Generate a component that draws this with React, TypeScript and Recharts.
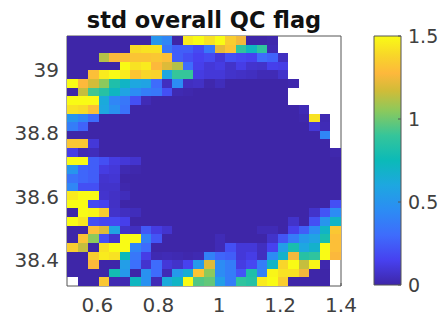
import { ScatterChart, Scatter, BarChart, Bar, XAxis, YAxis } from 'recharts'

const W = 443
const H = 322
const FONT = '"DejaVu Sans", sans-serif'
const AXIS_COLOR = '#555555'
const LABEL_COLOR = '#404040'

const X_DOMAIN = [0.5, 1.4]
const Y_DOMAIN = [38.318, 39.107]
const X_TICKS = [0.6, 0.8, 1, 1.2, 1.4]
const Y_TICKS = [38.4, 38.6, 38.8, 39]
const BAR_TICKS = [0, 0.5, 1, 1.5]
const BAR_DATA = [{ name: 'range', top: 1.5 }]

// std of QC flag per cell, top row first. null = no data (white)
const N = null
const QC_ROWS: (number | null)[][] = [
  [0,0,0,0,0,0,0,0,.5,.42,0,1.45,1.5,1.42,1.5,1.35,1.25,0,0,.01,N,N,N,N,N,N],
  [0,0,0,0,0,0,1.4,1.42,1.42,.35,.25,.25,.18,.35,1.22,1.32,.88,.72,.88,.02,N,N,N,N,N,N],
  [0,0,0,1.12,1.27,1.3,1.32,1.32,1.33,1.3,.25,.2,.15,.18,.1,.2,.17,.15,.3,.27,.05,N,N,N,N,N],
  [0,0,0,0,0,1.5,1.42,1.45,1.28,1.2,1.12,.3,.14,.1,.12,.07,.13,.08,.07,.14,.13,N,N,N,N,N],
  [0,0,1.3,1.45,1.5,1.45,1.32,1.38,1.37,.6,.9,.9,.12,.1,.1,.07,.06,.05,.03,.03,.07,N,N,N,N,N],
  [1.5,1.28,1.18,1.05,.82,.7,.6,.58,.3,.05,.45,.05,.06,.01,.04,0,0,0,0,0,0,.01,N,N,N,N],
  [0,1.15,.92,.85,.72,.58,.45,.38,.35,.2,.02,.01,0,0,0,0,0,0,0,0,0,N,N,N,N,N],
  [1.5,1.5,1.5,.62,.42,.35,.2,.03,0,0,0,0,0,0,0,0,0,0,0,0,0,N,N,N,N,N],
  [1.42,1.4,1.3,.6,.48,.33,0,0,0,0,0,0,0,0,0,0,0,0,0,0,0,0,.03,N,N,N],
  [.5,.42,.3,0,0,0,0,0,0,0,0,0,0,0,0,0,0,0,0,0,0,0,.01,1.42,.02,N],
  [.38,.27,0,0,0,0,0,0,0,0,0,0,0,0,0,0,0,0,0,0,0,0,0,.1,.03,N],
  [0,0,0,0,0,0,0,0,0,0,0,0,0,0,0,0,0,0,0,0,0,0,0,0,.42,N],
  [1.33,1.33,.1,0,0,0,0,0,0,0,0,0,0,0,0,0,0,0,0,0,0,0,0,0,0,N],
  [.13,.03,.04,0,0,0,0,0,0,0,0,0,0,0,0,0,0,0,0,0,0,0,0,0,0,.01],
  [1.5,1.5,.25,.2,.12,.1,.08,0,0,0,0,0,0,0,0,0,0,0,0,0,0,0,0,0,0,0],
  [.5,.28,.25,.12,.1,.02,.01,0,0,0,0,0,0,0,0,0,0,0,0,0,0,0,0,0,0,0],
  [.33,.28,.25,.08,.09,0,0,0,0,0,0,0,0,0,0,0,0,0,0,0,0,0,0,0,0,0],
  [.42,.2,.2,.07,.07,.01,0,0,0,0,0,0,0,0,0,0,0,0,0,0,0,0,0,0,0,0],
  [1.45,1.5,1.5,.08,.06,.04,0,0,0,0,0,0,0,0,0,0,0,0,0,0,0,0,0,0,0,0],
  [1.5,1.5,.18,.15,.06,0,0,0,0,0,0,0,0,0,0,0,0,0,0,0,0,0,0,0,0,.2],
  [0,1.5,1.48,1.35,.07,.05,.04,0,0,0,0,0,0,0,0,0,0,0,0,0,0,0,0,.07,.22,.45],
  [1.5,1.43,.2,.17,.17,.14,0,0,0,0,0,0,0,0,0,0,0,0,0,0,0,.07,0,.2,.5,.7],
  [0,0,1.3,1.2,.58,.07,.05,.23,.12,.08,0,0,0,0,0,0,0,0,.03,.03,0,.14,.25,.45,.7,1.33],
  [0,1.32,1.05,.2,.08,1.5,1.5,.4,.22,0,0,0,0,0,.03,0,0,0,0,.07,.22,.37,.52,.58,.8,1.3],
  [1.35,1.15,0,1.42,1.5,1.5,.42,.3,0,0,0,0,0,0,.03,.2,.1,.1,.05,.15,.55,.8,.6,.68,1.5,1.3],
  [0,0,1.35,1.45,1.42,.75,.35,.13,.02,.03,.02,.01,.02,.4,.28,.25,.1,.13,.05,.45,.68,1.25,.85,.88,1.5,1.27],
  [0,0,1.28,0,0,.55,.32,.08,.3,.1,.07,.15,.52,1.2,.45,.38,.12,.17,.38,.7,1.38,1.5,1.15,1.48,.01,N],
  [0,0,0,0,.78,.52,0,.48,.3,.03,.52,.65,1.32,1.05,.45,.38,.22,.82,.4,1.48,1.42,1.42,1.25,0,0,N],
  [N,0,0,1.33,.02,.02,.72,.48,.03,.62,.7,1.5,.95,.98,.55,.38,.88,.85,1.45,1.5,1.35,0,0,0,0,N],
]

// parula, as [fraction, colour]
const PARULA: [number, string][] = [
  [0, '#3e26a8'], [0.1, '#4741f0'], [0.2, '#3e6cfc'], [0.3, '#2c8cf4'], [0.4, '#1ea7e0'],
  [0.5, '#0bbab8'], [0.6, '#35c59a'], [0.7, '#8cc95c'], [0.78, '#d0bc38'], [0.85, '#fdb83c'], [0.92, '#f8d52a'], [1, '#f9fb15'],
]

function hexToRgb(hex: string) {
  return [1, 3, 5].map(i => parseInt(hex.slice(i, i + 2), 16))
}

function parula(v: number) {
  const t = Math.min(1, Math.max(0, v / 1.5))
  let i = 0
  while (i < PARULA.length - 2 && t > PARULA[i + 1][0]) i++
  const [t0, c0] = PARULA[i]
  const [t1, c1] = PARULA[i + 1]
  const a = hexToRgb(c0)
  const b = hexToRgb(c1)
  const f = (t - t0) / (t1 - t0)
  return `rgb(${a.map((x, k) => Math.round(x + (b[k] - x) * f)).join(',')})`
}

const PLOT = { left: 67, top: 36, right: 341, bottom: 286 }
const BAR = { left: 374, right: 401, top: 36, bottom: 285 }
const ROWS = QC_ROWS.length
const COLS = QC_ROWS[0].length
const CELL_W = (PLOT.right - PLOT.left) / COLS
const CELL_H = (PLOT.bottom - PLOT.top) / ROWS

const cells = QC_ROWS.flatMap((row, r) =>
  row.flatMap((v, c) =>
    v === null
      ? []
      : [{
          x: X_DOMAIN[0] + ((c + 0.5) * (X_DOMAIN[1] - X_DOMAIN[0])) / COLS,
          y: Y_DOMAIN[1] - ((r + 0.5) * (Y_DOMAIN[1] - Y_DOMAIN[0])) / ROWS,
          v,
        }],
  ),
)

function Cell(props: any) {
  const { cx, cy, payload } = props
  return (
    <rect
      x={cx - CELL_W / 2}
      y={cy - CELL_H / 2}
      width={CELL_W}
      height={CELL_H}
      fill={parula(payload.v)}
      shapeRendering="crispEdges"
    />
  )
}

const tickStyle = { fill: LABEL_COLOR, fontSize: 20, fontFamily: FONT }
const barTickStyle = { ...tickStyle, fontSize: 19 }
const axisLine = { stroke: AXIS_COLOR, strokeWidth: 1 }

export default function App() {
  return (
    <div style={{ position: 'fixed', left: 0, top: 0, width: W, height: H, background: '#fff' }}>
      <BarChart
        width={W}
        height={H}
        data={BAR_DATA}
        margin={{ top: BAR.top, right: 0, bottom: H - BAR.bottom, left: BAR.left }}
        barCategoryGap={0}
        style={{ position: 'absolute', left: 0, top: 0 }}
      >
        <defs>
          <linearGradient id="parula" x1="0" y1="1" x2="0" y2="0">
            {PARULA.map(([t, c]) => (
              <stop key={t} offset={t} stopColor={c} />
            ))}
          </linearGradient>
        </defs>
        <XAxis dataKey="name" hide />
        <YAxis
          orientation="right"
          type="number"
          domain={[0, 1.5]}
          ticks={BAR_TICKS}
          interval={0}
          width={W - BAR.right}
          tick={barTickStyle}
          tickSize={-3}
          tickMargin={10}
          axisLine={false}
          tickLine={axisLine}
        />
        <Bar dataKey="top" fill="url(#parula)" stroke={AXIS_COLOR} isAnimationActive={false} />
      </BarChart>

      <ScatterChart
        width={W}
        height={H}
        margin={{ top: PLOT.top - 1, right: W - PLOT.right - 1, bottom: 0, left: 0 }}
        style={{ position: 'absolute', left: 0, top: 0 }}
      >
        <XAxis
          xAxisId="b"
          type="number"
          dataKey="x"
          domain={X_DOMAIN}
          ticks={X_TICKS}
          interval={0}
          height={H - PLOT.bottom}
          tick={tickStyle}
          tickSize={-3}
          tickMargin={15}
          axisLine={axisLine}
          tickLine={axisLine}
          allowDataOverflow
        />
        <XAxis
          xAxisId="t"
          orientation="top"
          type="number"
          dataKey="x"
          domain={X_DOMAIN}
          ticks={X_TICKS}
          interval={0}
          height={1}
          tick={false}
          tickSize={-3}
          axisLine={axisLine}
          tickLine={axisLine}
          allowDataOverflow
        />
        <YAxis
          yAxisId="l"
          type="number"
          dataKey="y"
          domain={Y_DOMAIN}
          ticks={Y_TICKS}
          interval={0}
          width={PLOT.left}
          tick={tickStyle}
          tickSize={-3}
          tickMargin={11}
          axisLine={axisLine}
          tickLine={axisLine}
          allowDataOverflow
        />
        <YAxis
          yAxisId="r"
          orientation="right"
          type="number"
          dataKey="y"
          domain={Y_DOMAIN}
          ticks={Y_TICKS}
          interval={0}
          width={1}
          tick={false}
          tickSize={-3}
          axisLine={axisLine}
          tickLine={axisLine}
          allowDataOverflow
        />
        <Scatter
          xAxisId="b"
          yAxisId="l"
          data={cells}
          shape={Cell}
          isAnimationActive={false}
        />
      </ScatterChart>

      <div
        style={{
          position: 'absolute',
          left: PLOT.left - 20,
          width: PLOT.right - PLOT.left + 40,
          top: 7,
          textAlign: 'center',
          fontFamily: FONT,
          fontWeight: 'bold',
          fontSize: 22.5,
          lineHeight: '26px',
          color: '#111',
        }}
      >
        std overall QC flag
      </div>
    </div>
  )
}
